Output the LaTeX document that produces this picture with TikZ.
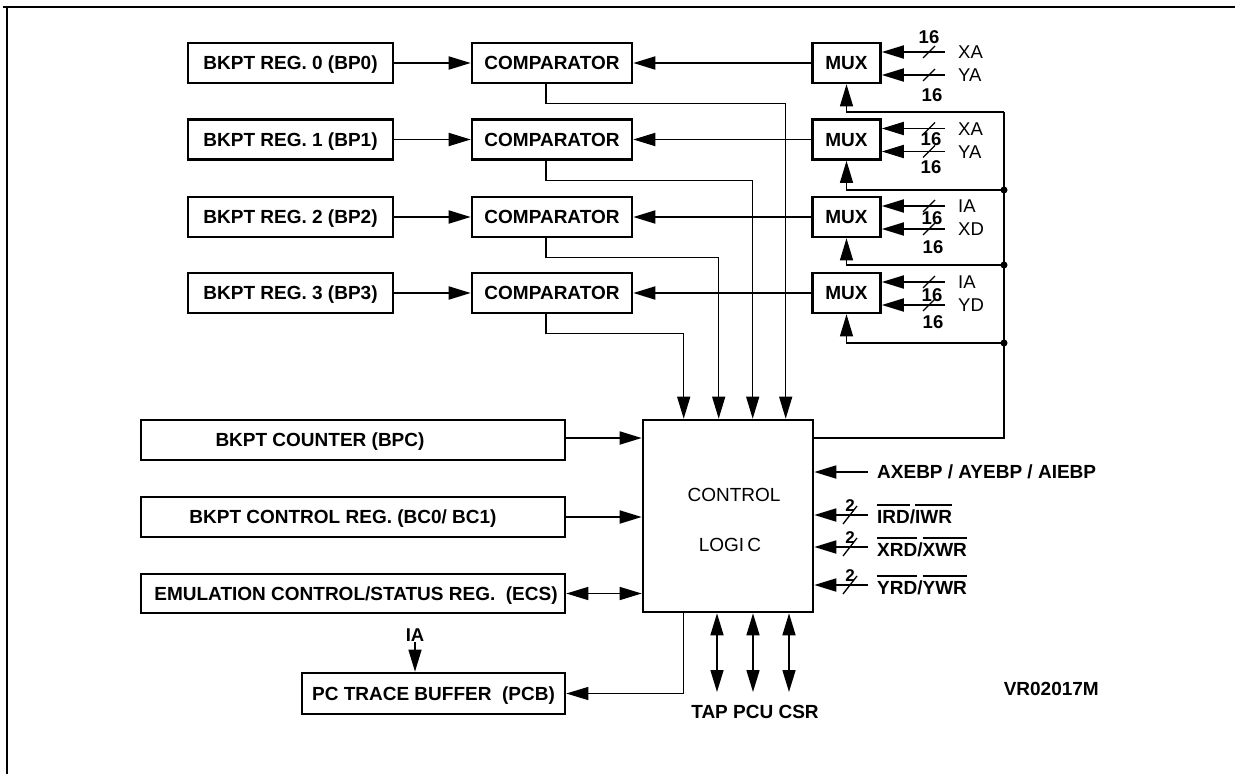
\documentclass[tikz,border=0pt]{standalone}
\usepackage{fontspec}
\setmainfont{Liberation Sans}
\usetikzlibrary{arrows.meta,calc}
\newcommand\ovbar[1]{\setbox0=\hbox{#1}\rlap{\rule[\dimexpr\ht0+5pt\relax]{\wd0}{1.3pt}}\box0}
\begin{document}
\begin{tikzpicture}[x=1pt,y=-1pt,
 >={Triangle[length=22pt,width=13pt]},
 box/.style={draw,line width=2.6pt,minimum height=40pt,inner sep=0pt,text height=13.7pt,text depth=0pt,font=\bfseries\fontsize{19}{22}\selectfont},
 btxt/.style={inner sep=0pt,text height=13.7pt,text depth=0pt,font=\bfseries\fontsize{19}{22}\selectfont},
 arr/.style={line width=1.8pt,->},
 arrd/.style={line width=1.5pt,<->},
 conn/.style={line width=1.2pt,draw=black},
 sig/.style={inner sep=0pt,text height=13pt,text depth=0pt,font=\fontsize{18.5}{20}\selectfont},
 bsig/.style={inner sep=0pt,text height=13pt,text depth=0pt,font=\bfseries\fontsize{18.5}{20}\selectfont},
 small/.style={inner sep=0pt,font=\bfseries\fontsize{17}{18}\selectfont},
 slash/.style={line width=1.3pt},
]
\useasboundingbox (0,0) rectangle (1235,774);
% frame
\draw[line width=2.5pt] (3,7) -- (1235,7);
\draw[line width=2pt] (7,7) -- (7,774);

% control logic
\node[draw,line width=2.6pt,minimum width=170pt,minimum height=192pt,inner sep=0pt] (cl) at (728,516) {};
\node[sig,font=\fontsize{19}{22}\selectfont] (clt1) at (734,495) {CONTROL};
\node[sig,font=\fontsize{19}{22}\selectfont] (clt2) at (730,545) {LOGI\,C};

% rows
\foreach \i/\y/\a/\b/\xo in {0/63/XA/YA/144,1/139.5/XA/YA/111,2/217/IA/XD/77,3/293/IA/YD/42} {
  \node[box,minimum width=205pt] (bp\i) at (290.5,\y) {BKPT REG. \i\ (BP\i)};
  \node[box,minimum width=160pt] (c\i) at (552,\y) {COMPARATOR};
  \node[box,minimum width=68pt] (m\i) at (846.5,\y) {MUX};
  \draw[arr] (bp\i) -- (c\i);
  \draw[arr] (m\i) -- (c\i);
  \node[sig,anchor=west] (sa\i) at (958,\y-11) {\a};
  \node[sig,anchor=west] (sb\i) at (958,\y+12) {\b};
  \draw[arr] ([xshift=-13pt]sa\i.west) -- (sa\i.west -| m\i.east);
  \draw[arr] ([xshift=-13pt]sb\i.west) -- (sb\i.west -| m\i.east);
  \draw[slash] (923,\y-11+6) -- (935,\y-11-6);
  \draw[slash] (923,\y+12+6) -- (935,\y+12-6);
  \draw[conn,->] ([xshift=-6pt]c\i.south) -- ++(0,19.5) -| ([xshift=\xo pt]cl.north west);
}
% 16 labels
\node[bsig] (n0a) at (929,37) {16};
\node[bsig] (n0b) at (932,95) {16};
\node[bsig] (n1a) at (931,139) {16};
\node[bsig] (n1b) at (931,167) {16};
\node[bsig] (n2a) at (932,218) {16};
\node[bsig] (n2b) at (933,247) {16};
\node[bsig] (n3a) at (932,295) {16};
\node[bsig] (n3b) at (933,322) {16};

% mux select bus
\coordinate (j0) at (1004,112);
\coordinate (j1) at (1004,190);
\coordinate (j2) at (1004,265);
\coordinate (j3) at (1004,343);
\draw[conn] ([yshift=78pt]cl.east) -| (j0);
\draw[conn,->] (j0) -| (m0.south);
\draw[conn,->] (j1) -| (m1.south);
\draw[conn,->] (j2) -| (m2.south);
\draw[conn,->] (j3) -| (m3.south);
\foreach \j in {j1,j2,j3} \fill (\j) circle (3.5pt);

% lower-left boxes
\node[box,minimum width=424pt] (bpc) at (353,440) {};
\node[btxt] (bpct) at (320,440) {BKPT COUNTER (BPC)};
\node[box,minimum width=424pt] (bc) at (353,517) {};
\node[btxt] (bct) at (343,517) {BKPT CONTROL REG. (BC0/ BC1)};
\node[box,minimum width=424pt,minimum height=39pt] (ecs) at (353,593.5) {};
\node[btxt] (ecst) at (356,593.5) {EMULATION CONTROL/STATUS REG.\ \ (ECS)};
\node[box,minimum width=263pt,minimum height=41pt] (pcb) at (433.5,693.5) {PC TRACE BUFFER\ \ (PCB)};

\draw[arr] (bpc.east |- 0,438) -- (cl.west |- 0,438);
\draw[arr] (bc.east) -- (bc.east -| cl.west);
\draw[arrd] (ecs.east) -- (ecs.east -| cl.west);

\node[bsig] (ia) at (415,635) {IA};
\draw[conn,->] (ia.south) -- (ia.south |- pcb.north);
\draw[conn,->] ([xshift=42pt]cl.south west) |- (pcb.east);

% bottom bidirectional
\node[btxt] (tpc) at (755,712) {TAP PCU CSR};
\coordinate (tap) at (717,692);
\coordinate (pcu) at (753,692);
\coordinate (csr) at (789,692);
\draw[arrd] (tap |- cl.south) -- (tap);
\draw[arrd] (pcu |- cl.south) -- (pcu);
\draw[arrd] (csr |- cl.south) -- (csr);

% right inputs
\node[btxt,anchor=west] (ax) at (877,472) {AXEBP / AYEBP / AIEBP};
\draw[arr] ([xshift=-9pt]ax.west) -- (ax.west -| cl.east);
\node[btxt,anchor=west] (ir) at (877,517) {\ovbar{IRD}/\ovbar{IWR}};
\node[btxt,anchor=west] (xr) at (877,550) {\ovbar{XRD}/\ovbar{XWR}};
\node[btxt,anchor=west] (yr) at (877,588) {\ovbar{YRD}/\ovbar{YWR}};
\foreach \n/\yy in {ir/515,xr/547,yr/585} {
  \draw[arr] (868,\yy) -- (cl.east |- 0,\yy);
  \draw[slash] (843,\yy+9) -- (857,\yy-9);
  \node[small] at (850,\yy-9) {2};
}

\node[btxt,anchor=east] (vr) at (1099,689) {VR02017M};
\end{tikzpicture}
\end{document}
